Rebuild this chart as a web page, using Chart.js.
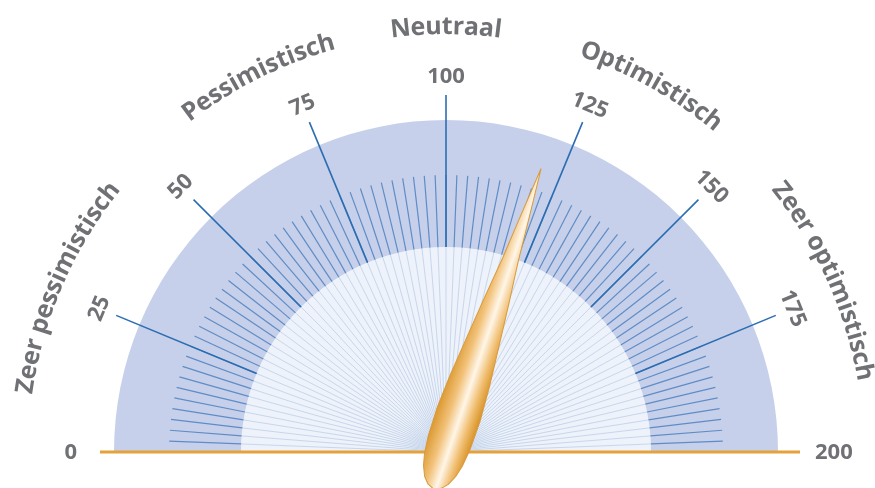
<!DOCTYPE html>
<html>
<head>
<meta charset="utf-8">
<script src="https://cdn.jsdelivr.net/npm/chart.js@4"></script>
<style>
  body { margin: 0; background: #fff; }
  canvas { display: block; }
</style>
</head>
<body>
<canvas id="gauge" width="875" height="488"></canvas>
<script>
// gauge data
var minValue = 0;
var maxValue = 200;
var needleValue = 120.6;
var minorStep = 2.5;
var majorTicks = [0, 25, 50, 75, 100, 125, 150, 175, 200];
var categories = ['Zeer pessimistisch', 'Pessimistisch', 'Neutraal', 'Optimistisch', 'Zeer optimistisch'];
var categoryAt = [26, 70.5, 100, 132.5, 173];

var greyText = '#707175';

// angle on the band arc for a value
function angleOf(arc, v) {
    return arc.startAngle + (v - minValue) / (maxValue - minValue) * (arc.endAngle - arc.startAngle);
}

function curvedText(ctx, text, cx, cy, r, angle) {
    var total = ctx.measureText(text).width;
    var a = angle - total / 2 / r;
    for (var i = 0; i < text.length; i++) {
        var w = ctx.measureText(text[i]).width;
        var ca = a + w / 2 / r;
        ctx.save();
        ctx.translate(cx + r * Math.cos(ca), cy + r * Math.sin(ca));
        ctx.rotate(ca + Math.PI / 2);
        ctx.fillText(text[i], 0, 0);
        ctx.restore();
        a += w / r;
    }
}

var gaugeParts = {
    id: 'gaugeParts',
    afterDatasetsDraw: function(chart) {
        var ctx = chart.ctx;
        var band = chart.getDatasetMeta(1).data[0];
        var inner = chart.getDatasetMeta(2).data[0];
        var needleArc = chart.getDatasetMeta(0).data[0];
        var cx = band.x, cy = band.y;
        var rIn = band.innerRadius, rOut = band.outerRadius;
        var rMinor = 277, rMajor = 357;

        ctx.save();
        // light rays inside the inner circle + darker minor ticks
        var n = Math.round((maxValue - minValue) / minorStep);
        for (var i = 1; i < n; i++) {
            var v = minValue + i * minorStep;
            var a = angleOf(band, v);
            var c = Math.cos(a), s = Math.sin(a);
            ctx.strokeStyle = '#c8d7ec';
            ctx.lineWidth = 1;
            ctx.beginPath();
            ctx.moveTo(cx, cy);
            ctx.lineTo(cx + inner.outerRadius * c, cy + inner.outerRadius * s);
            ctx.stroke();
            ctx.strokeStyle = '#5f8cc6';
            ctx.lineWidth = 1.2;
            ctx.beginPath();
            ctx.moveTo(cx + rIn * c, cy + rIn * s);
            ctx.lineTo(cx + rMinor * c, cy + rMinor * s);
            ctx.stroke();
        }
        // major ticks and labels
        ctx.font = 'bold 22px "Open Sans"';
        ctx.fillStyle = greyText;
        majorTicks.forEach(function(v) {
            var a = angleOf(band, v);
            var c = Math.cos(a), s = Math.sin(a);
            if (v > minValue && v < maxValue) {
                ctx.strokeStyle = '#2c6db2';
                ctx.lineWidth = 1.6;
                ctx.beginPath();
                ctx.moveTo(cx + rIn * c, cy + rIn * s);
                ctx.lineTo(cx + rMajor * c, cy + rMajor * s);
                ctx.stroke();
                ctx.save();
                ctx.translate(cx + (rMajor + 18) * c, cy + (rMajor + 18) * s);
                ctx.rotate(a + Math.PI / 2);
                ctx.textAlign = 'center';
                ctx.textBaseline = 'middle';
                ctx.fillText(String(v), 0, 0);
                ctx.restore();
            } else {
                ctx.textAlign = v === minValue ? 'right' : 'left';
                ctx.textBaseline = 'middle';
                ctx.fillText(String(v), cx + (rMajor + 12) * c, cy + (rMajor + 12) * s + 1);
            }
        });
        // category labels along the arc
        ctx.font = 'bold 25px "Open Sans"';
        ctx.textAlign = 'center';
        ctx.textBaseline = 'middle';
        categories.forEach(function(t, i) {
            curvedText(ctx, t, cx, cy, rOut + 93, angleOf(band, categoryAt[i]));
        });
        // base line
        ctx.strokeStyle = '#e5a23b';
        ctx.lineWidth = 3;
        ctx.beginPath();
        ctx.moveTo(cx - 346, cy);
        ctx.lineTo(cx + 354, cy);
        ctx.stroke();

        // needle
        var na = needleArc.endAngle;
        ctx.translate(cx, cy);
        ctx.rotate(na);
        var prof = [[-39, 0], [-36, 7], [-30, 12.5], [-20, 17], [-8, 20], [10, 22], [40, 22.5], [75, 20.5], [118, 16.5], [160, 12.5], [202, 8], [240, 5], [270, 2.5], [299, 0]];
        ctx.beginPath();
        ctx.moveTo(prof[0][0], 0);
        for (var k = 1; k < prof.length; k++) ctx.lineTo(prof[k][0], -prof[k][1]);
        for (var k = prof.length - 2; k > 0; k--) ctx.lineTo(prof[k][0], prof[k][1]);
        ctx.closePath();
        var g = ctx.createLinearGradient(0, -22, 0, 22);
        g.addColorStop(0, '#dc9a33');
        g.addColorStop(0.3, '#f2c27a');
        g.addColorStop(0.55, '#fff6e8');
        g.addColorStop(0.8, '#f0bd6e');
        g.addColorStop(1, '#d9952c');
        ctx.fillStyle = g;
        ctx.fill();
        ctx.strokeStyle = '#d89a3e';
        ctx.lineWidth = 1;
        ctx.stroke();
        ctx.restore();
    }
};

var ctx = document.getElementById('gauge').getContext('2d');
var gauge = new Chart(ctx, {
    type: 'doughnut',
    data: {
        datasets: [{
            data: [needleValue - minValue, maxValue - needleValue],
            backgroundColor: 'rgba(0,0,0,0)',
            borderWidth: 0,
            weight: 0
        }, {
            data: [maxValue - minValue],
            backgroundColor: '#c6d0ea',
            borderWidth: 0,
            weight: 127
        }, {
            data: [maxValue - minValue],
            backgroundColor: '#eef2fa',
            borderWidth: 0,
            weight: 205
        }]
    },
    options: {
        responsive: false,
        animation: false,
        rotation: -90,
        circumference: 180,
        cutout: 0,
        layout: { padding: { left: 114, right: 97, top: 120, bottom: 36 } },
        plugins: { legend: { display: false }, tooltip: { enabled: false } }
    },
    plugins: [gaugeParts]
});
</script>
</body>
</html>
